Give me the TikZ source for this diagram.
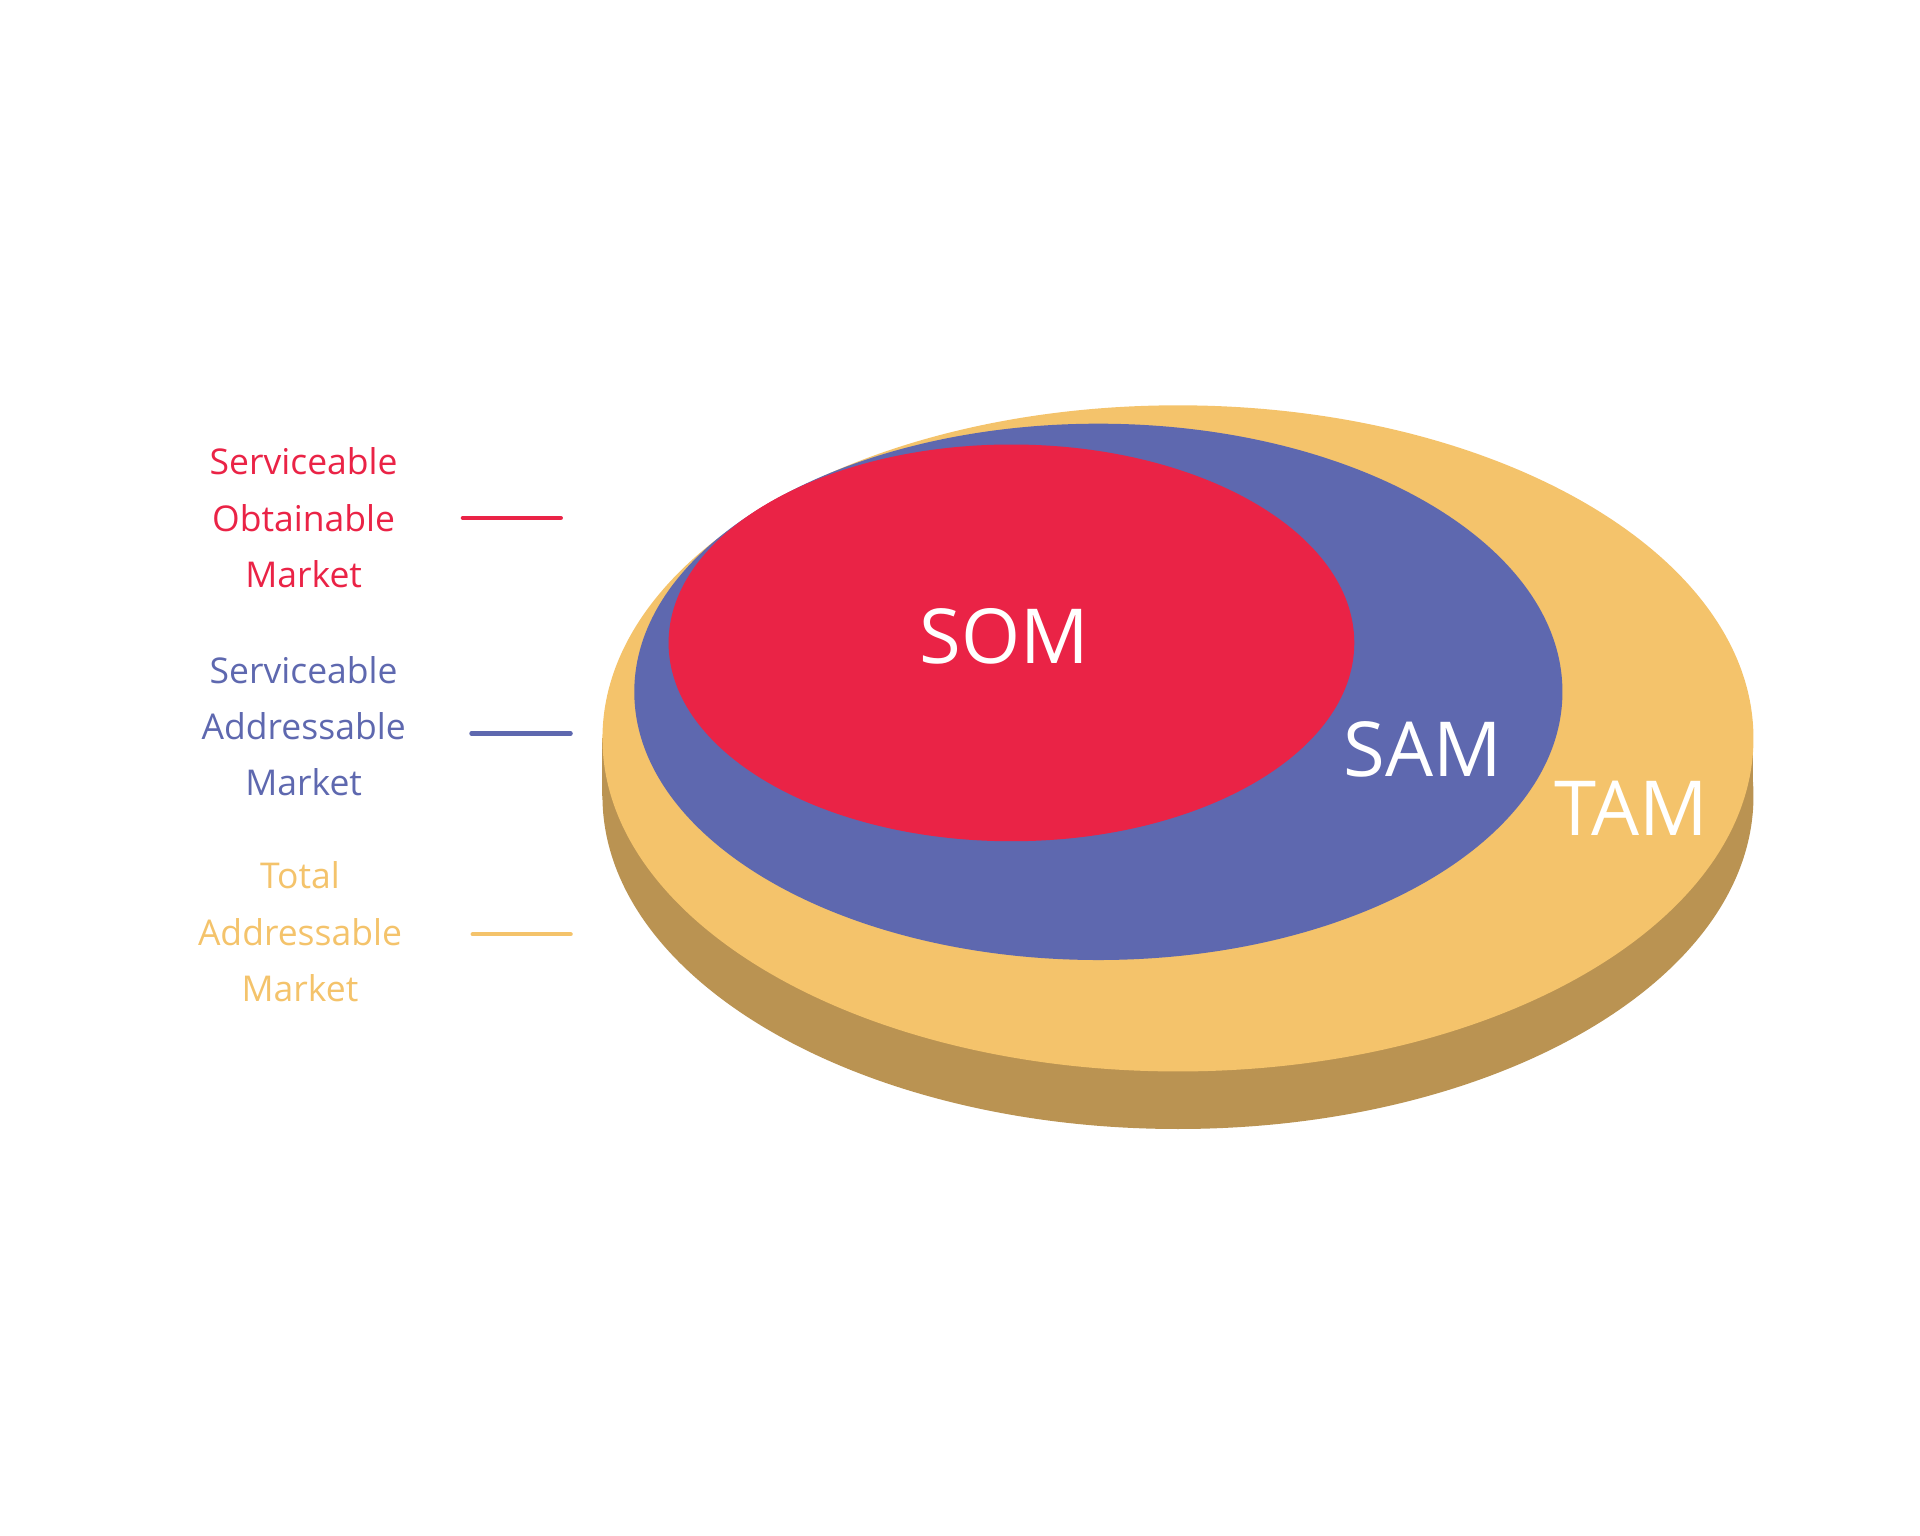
\documentclass[tikz,border=0pt]{standalone}
\usepackage{fontspec}
\setmainfont{Open Sans}
\definecolor{tamcol}{HTML}{F4C36B}
\definecolor{tamside}{HTML}{BA9352}
\definecolor{samcol}{HTML}{5E68AF}
\definecolor{somcol}{HTML}{EA2346}
\begin{document}
\begin{tikzpicture}[x=1pt,y=-1pt,
  legend/.style={align=center,font=\fontsize{29}{46}\selectfont},
  big/.style={text=white,font=\fontsize{62}{62}\selectfont},
  tick/.style={line width=3.5pt,line cap=round}]
  \useasboundingbox (0,0) rectangle (1568,1254);

  % Disc: side and top
  \fill[tamside] (962,650) ellipse[x radius=470,y radius=272];
  \fill[tamside] (492,603) rectangle (1432,650);
  \fill[tamcol] (962,603) ellipse[x radius=470,y radius=272];
  \fill[samcol] (897,565) ellipse[x radius=379,y radius=219];
  \fill[somcol] (826,525) ellipse[x radius=280,y radius=162];

  % Labels on the disc
  \node[big] (som) at (820,520) {SOM};
  \node[big] (sam) at (1162,612) {SAM};
  \node[big] (tam) at (1332,660) {TAM};

  % Legend
  \node[legend,text=somcol] (somtxt) at (248,423) {Serviceable\\Obtainable\\Market};
  \node[legend,text=samcol] (samtxt) at (248,593) {Serviceable\\Addressable\\Market};
  \node[legend,text=tamcol] (tamtxt) at (245,761) {Total\\Addressable\\Market};

  \coordinate (soma) at (378,423); \coordinate (somb) at (458,423);
  \coordinate (sama) at (385,599); \coordinate (samb) at (466,599);
  \coordinate (tama) at (386,763); \coordinate (tamb) at (466,763);
  \draw[tick,somcol] (soma) -- (somb);
  \draw[tick,samcol] (sama) -- (samb);
  \draw[tick,tamcol] (tama) -- (tamb);
\end{tikzpicture}
\end{document}
